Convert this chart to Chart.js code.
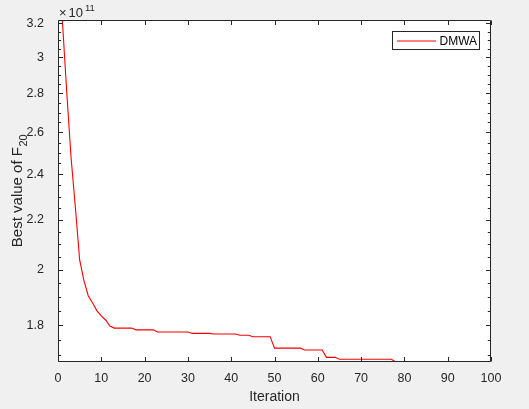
<!DOCTYPE html>
<html lang="en">
<head>
    <meta charset="UTF-8">
    <title>Best value of F20</title>
    <script src="https://cdn.jsdelivr.net/npm/chart.js"></script>
    <style>
        html, body { margin: 0; padding: 0; background: #f0f0f0; }
    </style>
</head>
<body>
    <canvas id="myChart" width="529" height="409"></canvas>

    <script>
        // best value found at each iteration, in units of 1e11
        const iterations = Array.from({ length: 100 }, (_, i) => i + 1);
        const bestValue = [
            3.221, 2.815, 2.482, 2.256, 2.039, 1.959, 1.903, 1.878, 1.850, 1.832,
            1.818, 1.797, 1.790, 1.790, 1.790, 1.790, 1.790, 1.784, 1.784, 1.784,
            1.784, 1.784, 1.777, 1.777, 1.777, 1.777, 1.777, 1.777, 1.777, 1.777,
            1.772, 1.772, 1.772, 1.772, 1.772, 1.770, 1.770, 1.770, 1.770, 1.770,
            1.770, 1.766, 1.766, 1.766, 1.761, 1.761, 1.761, 1.761, 1.761, 1.723,
            1.723, 1.723, 1.723, 1.723, 1.723, 1.723, 1.717, 1.717, 1.717, 1.717,
            1.717, 1.693, 1.693, 1.693, 1.687, 1.687, 1.687, 1.687, 1.687, 1.687,
            1.687, 1.687, 1.687, 1.687, 1.687, 1.687, 1.687, 1.678, 1.678, 1.678,
            1.678, 1.678, 1.678, 1.678, 1.678, 1.678, 1.678, 1.678, 1.678, 1.678,
            1.678, 1.678, 1.678, 1.678, 1.678, 1.678, 1.678, 1.678, 1.678, 1.678
        ];
        const xTicks = [0, 10, 20, 30, 40, 50, 60, 70, 80, 90, 100];
        const yTicks = [1.8, 2, 2.2, 2.4, 2.6, 2.8, 3, 3.2];
        const yMinorTicks = [];
        for (let v = 1.70; v < 3.22; v += 0.05) yMinorTicks.push(+v.toFixed(2));
        const yMin = 1.678, yMax = 3.221;

        const TEXT = '#262626';
        const FONT = '"Liberation Sans", Arial, sans-serif';

        // matlab style box, inward ticks, legend and labels
        const axesBox = {
            id: 'axesBox',
            beforeDraw(chart) {
                const c = chart.ctx, a = chart.chartArea;
                c.save();
                c.fillStyle = '#f0f0f0';
                c.fillRect(0, 0, chart.width, chart.height);
                c.fillStyle = '#ffffff';
                c.fillRect(a.left, a.top, a.right - a.left, a.bottom - a.top);
                c.restore();
            },
            afterDraw(chart) {
                const c = chart.ctx, a = chart.chartArea;
                const xs = chart.scales.x, ys = chart.scales.y;
                const L = Math.round(a.left) + 0.5, R = Math.round(a.right) - 0.5;
                const T = Math.round(a.top) + 0.5, B = Math.round(a.bottom) - 0.5;
                c.save();
                c.strokeStyle = TEXT;
                c.lineWidth = 1;
                c.beginPath();
                c.rect(L, T, R - L, B - T);
                xTicks.forEach(v => {
                    const px = Math.round(xs.getPixelForValue(v)) + 0.5;
                    c.moveTo(px, B); c.lineTo(px, B - 4.5);
                    c.moveTo(px, T); c.lineTo(px, T + 4.5);
                });
                yMinorTicks.forEach(v => {
                    if (v < yMin || v > yMax) return;
                    const major = yTicks.some(t => Math.abs(t - v) < 1e-6);
                    const len = major ? 4.5 : 2.7;
                    const py = Math.round(ys.getPixelForValue(v)) + 0.5;
                    c.moveTo(L, py); c.lineTo(L + len, py);
                    c.moveTo(R, py); c.lineTo(R - len, py);
                });
                c.stroke();

                // legend
                const ds = chart.data.datasets[0];
                c.fillStyle = '#ffffff';
                c.fillRect(393, 32, 87, 18);
                c.strokeRect(392.5, 31.5, 87, 18);
                c.strokeStyle = ds.borderColor;
                c.lineWidth = 1;
                c.beginPath();
                c.moveTo(397, 41); c.lineTo(436, 41);
                c.stroke();
                c.fillStyle = '#000000';
                c.font = '12px ' + FONT;
                c.textBaseline = 'middle';
                c.textAlign = 'left';
                c.fillText(ds.label, 439.5, 41.5);

                // axis titles
                c.fillStyle = TEXT;
                c.font = '14px ' + FONT;
                c.textAlign = 'center';
                c.fillText('Iteration', (a.left + a.right) / 2, 397);

                c.save();
                c.translate(21.5, (a.top + a.bottom) / 2);
                c.rotate(-Math.PI / 2);
                c.textBaseline = 'alphabetic';
                c.textAlign = 'left';
                c.font = '15px ' + FONT;
                const main = 'Best value of F';
                const w1 = c.measureText(main).width;
                c.font = '11px ' + FONT;
                const w2 = c.measureText('20').width;
                const x0 = -(w1 + w2) / 2;
                c.font = '15px ' + FONT;
                c.fillText(main, x0, 0);
                c.font = '11px ' + FONT;
                c.fillText('20', x0 + w1 + 0.5, 5);
                c.restore();

                // exponent label
                c.textAlign = 'left';
                c.textBaseline = 'alphabetic';
                c.font = '13px ' + FONT;
                c.fillText('\u00d7', 59, 17);
                c.fillText('10', 68.5, 17);
                c.font = '9.5px ' + FONT;
                c.fillText('11', 85, 10.5);
                c.restore();
            }
        };

        const ctx = document.getElementById('myChart').getContext('2d');
        new Chart(ctx, {
            type: 'line',
            data: {
                datasets: [{
                    label: 'DMWA',
                    data: iterations.map((it, i) => ({ x: it, y: bestValue[i] })),
                    borderColor: '#ff0000',
                    borderWidth: 1.1,
                    pointRadius: 0,
                    tension: 0,
                    fill: false
                }]
            },
            options: {
                responsive: false,
                animation: false,
                events: [],
                layout: { padding: { left: 0, top: 20, right: 38, bottom: 0 } },
                plugins: {
                    legend: { display: false },
                    tooltip: { enabled: false }
                },
                scales: {
                    x: {
                        type: 'linear',
                        min: 0,
                        max: 100,
                        afterFit: s => { s.height = 47; },
                        afterBuildTicks: s => { s.ticks = xTicks.map(v => ({ value: v })); },
                        grid: { display: false },
                        border: { display: false },
                        ticks: {
                            color: TEXT,
                            font: { family: FONT, size: 12.5 },
                            padding: 1.5,
                            maxRotation: 0,
                            autoSkip: false
                        }
                    },
                    y: {
                        type: 'logarithmic',
                        min: yMin,
                        max: yMax,
                        afterFit: s => { s.width = 58; },
                        afterBuildTicks: s => { s.ticks = yTicks.map(v => ({ value: v })); },
                        grid: { display: false },
                        border: { display: false },
                        ticks: {
                            color: TEXT,
                            font: { family: FONT, size: 12.5 },
                            padding: 6,
                            autoSkip: false,
                            callback: v => String(+Number(v).toFixed(1))
                        }
                    }
                }
            },
            plugins: [axesBox]
        });
    </script>
</body>
</html>
